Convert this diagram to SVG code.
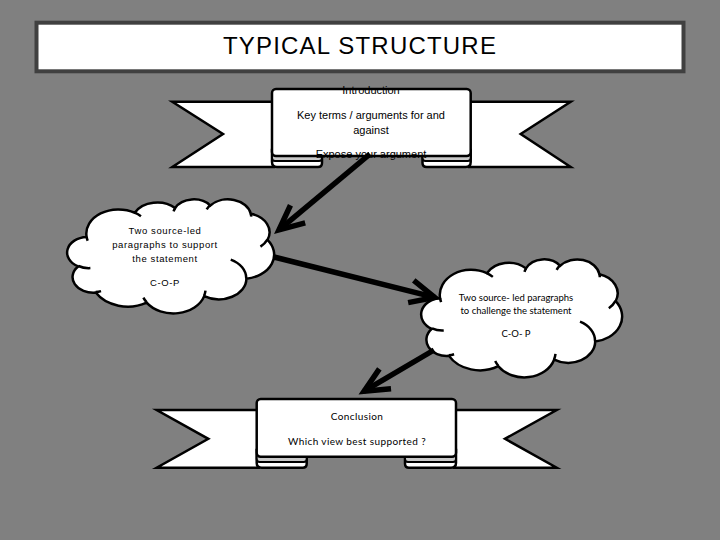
<svg xmlns="http://www.w3.org/2000/svg" width="720" height="540" viewBox="0 0 720 540">
<style>
.shape{fill:#fff;stroke:#000;stroke-width:2.5;stroke-linejoin:miter}
.curl{fill:#c8c8c8;stroke:#000;stroke-width:2}
.cloud{fill:#fff;stroke:#000;stroke-width:2.5}
.deco{fill:none;stroke:#000;stroke-width:2.5}
.t{font-family:"Liberation Sans",Arial,sans-serif;fill:#000;text-anchor:middle}
.c{font-family:Lato,"Liberation Sans",sans-serif;fill:#000;text-anchor:middle}
.conn{stroke:#000;stroke-width:5.5;fill:none}
</style>
<defs>
<marker id="ah" markerUnits="userSpaceOnUse" orient="auto" refX="0" refY="0" markerWidth="40" markerHeight="40" overflow="visible">
<path d="M-24.5,-11.5 L0,0 L-24.5,11.5" fill="none" stroke="#000" stroke-width="5.5" stroke-linejoin="miter" stroke-miterlimit="10"/>
</marker>
</defs>
<rect width="720" height="540" fill="#808080"/>

<g id="title">
<rect x="36.5" y="22.7" width="647" height="48.6" fill="#fff" stroke="#404040" stroke-width="4"/>
<text x="360" y="54" class="t" font-size="24" letter-spacing="1.2" fill="#222">TYPICAL STRUCTURE</text>
</g>

<g id="intro">
<path class="shape" d="M172.3,101.7 H274 V167 H172.3 L223,134 Z"/>
<path class="shape" d="M570.7,101.7 H469 V167 H570.7 L520.7,134 Z"/>
<path class="shape" d="M272,150 V162 Q272,167 277,167 H318 Q322,167 322,163 V150 Z"/>
<path class="shape" d="M470.7,150 V162 Q470.7,167 465.7,167 H426.7 Q422.5,167 422.5,163 V150 Z"/>
<rect class="curl" x="272" y="152" width="50" height="9" rx="3"/>
<rect class="curl" x="422.5" y="152" width="48.2" height="9" rx="3"/>
<rect class="shape" x="272" y="89" width="198.7" height="67" rx="4"/>
<text x="371" y="94" class="t" font-size="11">Introduction</text>
<text x="371" y="119.3" class="t" font-size="11">Key terms / arguments for and</text>
<text x="371" y="133.5" class="t" font-size="11">against</text>
<text x="371" y="157.7" class="t" font-size="11">Expose your argument</text>
</g>

<g id="support">
<path class="cloud" vector-effect="non-scaling-stroke" transform="translate(68,199) scale(0.004769,0.002639)" d="M3900,14370 A6753,9190 0 0 1 14007,5204 A5333,7267 0 0 1 22457,3434 A4365,5945 0 0 1 29834,2483 A4857,6595 0 0 1 38324,5573 A5333,7273 0 0 1 41826,15461 A6775,9220 0 0 1 37410,30199 A5785,7867 0 0 1 28557,36806 A6752,9215 0 0 1 16487,39260 A7720,10543 0 0 1 5823,35469 A4360,5918 0 0 1 2125,25555 A4345,5945 0 0 1 3900,14370 Z"/>
<path class="deco" vector-effect="non-scaling-stroke" transform="translate(68,199) scale(0.004769,0.002639)" d="M4693,26177 A4345,5945 0 0 1 2168,25386 M6928,34899 A4360,5918 0 0 1 5816,35283 M16478,39090 A6752,9215 0 0 1 15808,37348 M28827,34751 A6752,9215 0 0 1 28559,36666 M34129,22954 A5785,7867 0 0 1 37377,30088 M41798,15354 A5333,7273 0 0 1 40350,18028 M38324,5426 A4857,6595 0 0 1 38400,6687 M29078,3952 A4857,6595 0 0 1 29818,2340 M22141,4720 A4365,5945 0 0 1 22500,3331 M14000,5192 A6753,9190 0 0 1 15300,6542 M4127,15789 A6753,9190 0 0 1 3901,14370"/>
<text x="165" y="234" class="t" font-size="9.5" letter-spacing="0.6">Two source-led</text>
<text x="165" y="248" class="t" font-size="9.5" letter-spacing="0.6">paragraphs to support</text>
<text x="165" y="262" class="t" font-size="9.5" letter-spacing="0.6">the statement</text>
<text x="165" y="286" class="t" font-size="9.5" letter-spacing="0.6">C-O-P</text>
</g>

<g id="challenge">
<path class="cloud" vector-effect="non-scaling-stroke" transform="translate(422,259) scale(0.00463,0.002731)" d="M3900,14370 A6753,9190 0 0 1 14007,5204 A5333,7267 0 0 1 22457,3434 A4365,5945 0 0 1 29834,2483 A4857,6595 0 0 1 38324,5573 A5333,7273 0 0 1 41826,15461 A6775,9220 0 0 1 37410,30199 A5785,7867 0 0 1 28557,36806 A6752,9215 0 0 1 16487,39260 A7720,10543 0 0 1 5823,35469 A4360,5918 0 0 1 2125,25555 A4345,5945 0 0 1 3900,14370 Z"/>
<path class="deco" vector-effect="non-scaling-stroke" transform="translate(422,259) scale(0.00463,0.002731)" d="M4693,26177 A4345,5945 0 0 1 2168,25386 M6928,34899 A4360,5918 0 0 1 5816,35283 M16478,39090 A6752,9215 0 0 1 15808,37348 M28827,34751 A6752,9215 0 0 1 28559,36666 M34129,22954 A5785,7867 0 0 1 37377,30088 M41798,15354 A5333,7273 0 0 1 40350,18028 M38324,5426 A4857,6595 0 0 1 38400,6687 M29078,3952 A4857,6595 0 0 1 29818,2340 M22141,4720 A4365,5945 0 0 1 22500,3331 M14000,5192 A6753,9190 0 0 1 15300,6542 M4127,15789 A6753,9190 0 0 1 3901,14370"/>
<text x="516" y="300.7" class="c" font-size="9.5">Two source- led paragraphs</text>
<text x="516" y="314" class="c" font-size="9.5">to challenge the statement</text>
<text x="516" y="337.3" class="c" font-size="9.5">C-O- P</text>
</g>

<g id="conclusion">
<path class="shape" d="M156.7,410 H259 V467.7 H156.7 L208.3,438.8 Z"/>
<path class="shape" d="M556.7,410 H454 V467.7 H556.7 L505,438.8 Z"/>
<path class="shape" d="M256.7,450 V463 Q256.7,467.7 261.7,467.7 H302.7 Q306.7,467.7 306.7,463.7 V450 Z"/>
<path class="shape" d="M456,450 V463 Q456,467.7 451,467.7 H409 Q405,467.7 405,463.7 V450 Z"/>
<rect class="curl" x="256.7" y="452" width="50" height="10" rx="3"/>
<rect class="curl" x="405" y="452" width="51" height="10" rx="3"/>
<rect class="shape" x="256.7" y="399" width="199.3" height="57.7" rx="4"/>
<text x="357" y="420" class="c" font-size="10" letter-spacing="0.4">Conclusion</text>
<text x="357" y="445" class="c" font-size="10" letter-spacing="0.4">Which view best supported ?</text>
</g>

<g id="connectors">
<line class="conn" x1="370" y1="154" x2="279" y2="229.8" marker-end="url(#ah)"/>
<line class="conn" x1="274" y1="257" x2="434.7" y2="297.4" marker-end="url(#ah)"/>
<line class="conn" x1="434" y1="350" x2="364.1" y2="391.2" marker-end="url(#ah)"/>
</g>
</svg>
